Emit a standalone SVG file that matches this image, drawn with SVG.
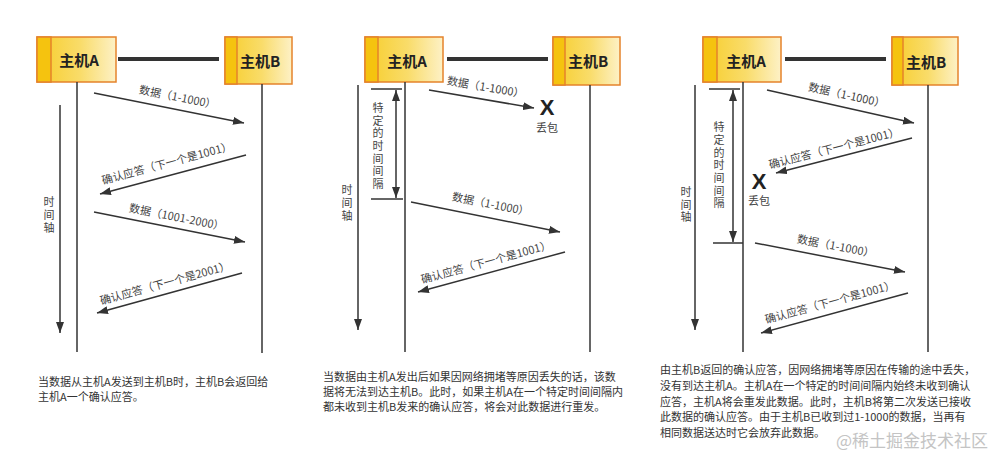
<svg xmlns="http://www.w3.org/2000/svg" width="1000" height="461" viewBox="0 0 1000 461">
<defs>
<linearGradient id="boxg" x1="0" y1="0" x2="1" y2="0">
<stop offset="0" stop-color="#f7cd2a"/>
<stop offset="0.55" stop-color="#f9dc6a"/>
<stop offset="1" stop-color="#fdf1c6"/>
</linearGradient>
<marker id="ah" viewBox="0 0 11 8" refX="11" refY="4" markerWidth="11" markerHeight="8" markerUnits="userSpaceOnUse" orient="auto-start-reverse">
<path d="M0,0 L11,4 L0,8 z" fill="#333"/>
</marker>
<style>
.box{fill:url(#boxg);stroke:#e5832b;stroke-width:1.5}
.stripe{fill:#f5c30f;stroke:#e5832b;stroke-width:1.5}
.hname{font-family:"Noto Sans CJK SC","Noto Sans",sans-serif;font-size:15px;font-weight:bold;fill:#222;text-anchor:middle}
.link{stroke:#333;stroke-width:4}
.life{stroke:#333;stroke-width:1.5;fill:none}
.msg{stroke:#333;stroke-width:1.5;fill:none;marker-end:url(#ah)}
.dbl{stroke:#333;stroke-width:1.5;fill:none;marker-end:url(#ah);marker-start:url(#ah)}
.tick{stroke:#333;stroke-width:1.5}
.lbl{font-family:"Noto Sans CJK SC","Noto Sans",sans-serif;font-size:11px;fill:#444;text-anchor:middle}
.vt{font-family:"Noto Sans CJK SC","Noto Sans",sans-serif;font-size:11px;fill:#444;writing-mode:vertical-rl;text-orientation:upright}
.x{font-family:"Liberation Sans","Noto Sans",sans-serif;font-size:22px;font-weight:bold;fill:#222;text-anchor:middle}
.cap{font-family:"Noto Sans CJK SC","Noto Sans",sans-serif;font-size:11px;fill:#333}
.wm{font-family:"Noto Sans CJK SC","Noto Sans",sans-serif;font-size:17px;fill:#c4c4c4}
</style>
</defs>
<rect width="1000" height="461" fill="#fff"/>

<!-- Panel 1 -->
<g id="p1-hostA"><rect class="box" x="37" y="37" width="79" height="45"/><rect class="stripe" x="37" y="37" width="14" height="45"/><text class="hname" x="79" y="66">主机A</text></g>
<g id="p1-hostB"><rect class="box" x="225" y="37" width="67" height="47"/><rect class="stripe" x="225" y="37" width="12" height="47"/><text class="hname" x="260" y="67">主机B</text></g>
<g id="p1-connectors">
<line class="link" x1="118" y1="59" x2="219" y2="59"/>
<line class="life" x1="77" y1="82" x2="77" y2="352"/>
<line class="life" x1="262" y1="84" x2="262" y2="353"/>
<line class="msg" x1="60" y1="105" x2="60" y2="333"/>
<line class="msg" x1="94" y1="93" x2="244" y2="123"/>
<line class="msg" x1="246" y1="155" x2="100" y2="194"/>
<line class="msg" x1="94" y1="212" x2="245" y2="242"/>
<line class="msg" x1="242" y1="273" x2="97" y2="313"/>
</g>
<g id="p1-labels">
<text class="lbl" transform="translate(177,101) rotate(11.4)">数据（1-1000）</text>
<text class="lbl" transform="translate(168,167) rotate(-15)">确认应答（下一个是1001）</text>
<text class="lbl" transform="translate(176,221) rotate(11.2)">数据（1001-2000）</text>
<text class="lbl" transform="translate(166,287) rotate(-15.4)">确认应答（下一个是2001）</text>
<text class="vt" x="49" y="196.5" letter-spacing="2">时间轴</text>
</g>
<g id="p1-caption">
<text class="cap" x="38" y="386">当数据从主机A发送到主机B时，主机B会返回给</text>
<text class="cap" x="38" y="401">主机A一个确认应答。</text>
</g>

<!-- Panel 2 -->
<g id="p2-hostA"><rect class="box" x="365" y="37" width="78" height="45"/><rect class="stripe" x="365" y="37" width="13" height="45"/><text class="hname" x="407" y="67">主机A</text></g>
<g id="p2-hostB"><rect class="box" x="553" y="37" width="67" height="48"/><rect class="stripe" x="553" y="37" width="12" height="48"/><text class="hname" x="588" y="67">主机B</text></g>
<g id="p2-connectors">
<line class="link" x1="447" y1="59" x2="548" y2="59"/>
<line class="life" x1="405" y1="82" x2="405" y2="352"/>
<line class="life" x1="590" y1="85" x2="590" y2="352"/>
<line class="msg" x1="358" y1="85" x2="358" y2="330"/>
<line class="tick" x1="371" y1="89" x2="402" y2="89"/>
<line class="tick" x1="371" y1="199" x2="403" y2="199"/>
<line class="dbl" x1="396" y1="90" x2="396" y2="198"/>
<line class="msg" x1="429" y1="90" x2="534" y2="108"/>
<line class="msg" x1="411" y1="202" x2="560" y2="232"/>
<line class="msg" x1="565" y1="252" x2="418" y2="292"/>
</g>
<g id="p2-labels">
<text class="lbl" transform="translate(485,91) rotate(9.8)">数据（1-1000）</text>
<text class="x" x="547" y="115">X</text>
<text class="lbl" x="547" y="132">丢包</text>
<text class="lbl" transform="translate(490,208) rotate(11.4)">数据（1-1000）</text>
<text class="lbl" transform="translate(487,266) rotate(-15.2)">确认应答（下一个是1001）</text>
<text class="vt" x="378" y="102.5" letter-spacing="1.6">特定的时间间隔</text>
<text class="vt" x="347" y="184.5" letter-spacing="2">时间轴</text>
</g>
<g id="p2-caption">
<text class="cap" x="323" y="381">当数据由主机A发出后如果因网络拥堵等原因丢失的话，该数</text>
<text class="cap" x="323" y="396">据将无法到达主机B。此时，如果主机A在一个特定时间间隔内</text>
<text class="cap" x="323" y="411">都未收到主机B发来的确认应答，将会对此数据进行重发。</text>
</g>

<!-- Panel 3 -->
<g id="p3-hostA"><rect class="box" x="703" y="37" width="78" height="45"/><rect class="stripe" x="703" y="37" width="14" height="45"/><text class="hname" x="746" y="67">主机A</text></g>
<g id="p3-hostB"><rect class="box" x="892" y="37" width="66" height="48"/><rect class="stripe" x="892" y="37" width="11" height="48"/><text class="hname" x="926" y="68">主机B</text></g>
<g id="p3-connectors">
<line class="link" x1="785" y1="59" x2="886" y2="59"/>
<line class="life" x1="743" y1="82" x2="743" y2="352"/>
<line class="life" x1="928" y1="85" x2="928" y2="352"/>
<line class="msg" x1="695" y1="85" x2="695" y2="330"/>
<line class="tick" x1="709" y1="89" x2="740" y2="89"/>
<line class="tick" x1="713" y1="243" x2="743" y2="243"/>
<line class="dbl" x1="733" y1="90" x2="733" y2="242"/>
<line class="msg" x1="767" y1="90" x2="914" y2="123"/>
<line class="msg" x1="912" y1="138" x2="776" y2="173"/>
<line class="msg" x1="755" y1="243" x2="905" y2="272"/>
<line class="msg" x1="908" y1="293" x2="761" y2="333"/>
</g>
<g id="p3-labels">
<text class="lbl" transform="translate(846,99) rotate(12.7)">数据（1-1000）</text>
<text class="lbl" transform="translate(835,152) rotate(-14.4)">确认应答（下一个是1001）</text>
<text class="x" x="759" y="189">X</text>
<text class="lbl" x="759" y="205">丢包</text>
<text class="lbl" transform="translate(835,250) rotate(10.9)">数据（1-1000）</text>
<text class="lbl" transform="translate(831,306) rotate(-15.2)">确认应答（下一个是1001）</text>
<text class="vt" x="719" y="121.5" letter-spacing="1.7">特定的时间间隔</text>
<text class="vt" x="686" y="186.5" letter-spacing="1.5">时间轴</text>
</g>
<g id="p3-caption">
<text class="cap" x="660" y="374">由主机B返回的确认应答，因网络拥堵等原因在传输的途中丢失，</text>
<text class="cap" x="660" y="390">没有到达主机A。主机A在一个特定的时间间隔内始终未收到确认</text>
<text class="cap" x="660" y="406">应答，主机A将会重发此数据。此时，主机B将第二次发送已接收</text>
<text class="cap" x="660" y="421">此数据的确认应答。由于主机B已收到过1-1000的数据，当再有</text>
<text class="cap" x="660" y="437">相同数据送达时它会放弃此数据。</text>
</g>
<text class="wm" x="836" y="447">@稀土掘金技术社区</text>
</svg>
